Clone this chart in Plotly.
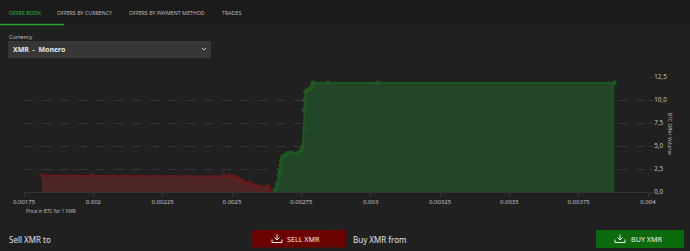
import plotly.graph_objects as go

W, H = 690, 251

# ---- data ----
sell_price = [0.001815, 0.001994, 0.00247, 0.00249, 0.0025, 0.00251, 0.00252, 0.00253,
              0.00254, 0.00256, 0.002575, 0.00259, 0.00263, 0.002635]
sell_volume = [1.8, 1.8, 1.78, 1.72, 1.68, 1.6, 1.45, 1.3, 1.1, 1.0, 0.75, 0.6, 0.6, 0.2]

buy_price = [0.002654, 0.002664, 0.002669, 0.002672, 0.002676, 0.002678, 0.002682, 0.00269,
             0.002702, 0.002714, 0.002738, 0.00275, 0.002754, 0.002759, 0.00276, 0.002762,
             0.002765, 0.002772, 0.00278, 0.002786, 0.002792, 0.002846, 0.003026, 0.003879]
buy_volume = [0.22, 0.95, 1.85, 2.4, 2.93, 3.48, 3.84, 4.02, 4.2, 4.27, 4.27, 4.57, 4.92,
              6.92, 8.91, 10.0, 10.9, 11.09, 11.2, 11.45, 11.88, 11.88, 11.88, 11.88]

x_ticks = [0.00175, 0.002, 0.00225, 0.0025, 0.00275, 0.003, 0.00325, 0.0035, 0.00375, 0.004]
x_tick_labels = ["0.00175", "0.002", "0.00225", "0.0025", "0.00275", "0.003", "0.00325",
                 "0.0035", "0.00375", "0.004"]
y_ticks = [0, 2.5, 5, 7.5, 10, 12.5]
y_tick_labels = ["0,0", "2,5", "5,0", "7,5", "10,0", "12,5"]

tabs = ["OFFER BOOK", "OFFERS BY CURRENCY", "OFFERS BY PAYMENT METHOD", "TRADES"]
tab_x = [7, 55, 127, 220]

BG = "#202020"
FONT = "Noto Sans"


def px(x):
    return x / W


def py(y):
    return 1 - y / H


fig = go.Figure()
fig.add_trace(go.Scatter(
    x=sell_price, y=sell_volume, mode="lines+markers", fill="tozeroy",
    fillcolor="#4f2626", line=dict(color="#6e1818", width=1.5),
    marker=dict(size=3.5, color="#5a1a1a", line=dict(color="#7a1a1a", width=1)),
    hoverinfo="skip", showlegend=False))
fig.add_trace(go.Scatter(
    x=buy_price, y=buy_volume, mode="lines+markers", fill="tozeroy",
    fillcolor="#234629", line=dict(color="#1b5e1f", width=1.5),
    marker=dict(size=3.5, color="#1f4a24", line=dict(color="#1d6a1d", width=1)),
    hoverinfo="skip", showlegend=False))

fig.update_layout(
    width=W, height=H, autosize=False,
    margin=dict(l=0, r=0, t=0, b=0, pad=0, autoexpand=False),
    paper_bgcolor=BG, plot_bgcolor=BG,
    font=dict(family=FONT, color="#b8b8b8", size=7),
    xaxis=dict(domain=[px(24), px(648)], range=[0.00175, 0.004], automargin=False,
               tickvals=x_ticks, ticktext=x_tick_labels, tickfont=dict(size=6, color="#c0c0c0"),
               showgrid=False, zeroline=False, showline=True, linecolor="#353535",
               ticks="outside", ticklen=4, tickcolor="#353535"),
    yaxis=dict(domain=[py(192), py(77)], range=[0, 12.5], side="right", automargin=False,
               tickvals=y_ticks, ticktext=y_tick_labels, tickfont=dict(size=6.3, color="#c0c0c0"),
               showgrid=True, gridcolor="#363636", griddash="dash", gridwidth=1,
               zeroline=False, ticks="outside", ticklen=4, tickcolor="#363636"),
)

shapes = []
ann = []

# top tab bar
shapes.append(dict(type="rect", xref="paper", yref="paper", x0=0, x1=1, y0=py(25), y1=1,
                   fillcolor="#1b1b1b", line=dict(width=0), layer="below"))
shapes.append(dict(type="line", xref="paper", yref="paper", x0=0, x1=px(64), y0=py(24.5), y1=py(24.5),
                   line=dict(color="#25a52f", width=1.5)))
for i, (t, x) in enumerate(zip(tabs, tab_x)):
    ann.append(dict(text=t, x=px(x), y=py(13), xref="paper", yref="paper", xanchor="left",
                    yanchor="middle", showarrow=False,
                    font=dict(size=5.3, color="#2fb83a" if i == 0 else "#bdbdbd", family=FONT)))

# currency selector
ann.append(dict(text="Currency", x=px(7), y=py(37.5), xref="paper", yref="paper", xanchor="left",
                yanchor="middle", showarrow=False, font=dict(size=5.5, color="#c0c0c0", family=FONT)))
shapes.append(dict(type="rect", xref="paper", yref="paper", x0=px(8), x1=px(211), y0=py(58), y1=py(41),
                   fillcolor="#373737", line=dict(width=0)))
ann.append(dict(text="<b>XMR&nbsp; -&nbsp; Monero</b>", x=px(11), y=py(49.5), xref="paper", yref="paper",
                xanchor="left", yanchor="middle", showarrow=False,
                font=dict(size=7, color="#e8e8e8", family=FONT)))
shapes.append(dict(type="path", xref="paper", yref="paper",
                   path=f"M {px(202)} {py(48)} L {px(204)} {py(50)} L {px(206)} {py(48)}",
                   line=dict(color="#cfcfcf", width=1)))

# axis titles
ann.append(dict(text="Price in BTC for 1 XMR", x=px(23.5), y=py(211), xref="paper", yref="paper",
                xanchor="left", yanchor="middle", showarrow=False,
                font=dict(size=4.8, color="#bdbdbd", family=FONT)))
ann.append(dict(text="BTC Offer Volume", x=px(670), y=py(134), xref="paper", yref="paper",
                xanchor="center", yanchor="middle", showarrow=False, textangle=90,
                font=dict(size=5, color="#bdbdbd", family=FONT)))

# bottom bar
ann.append(dict(text="Sell XMR to", x=px(6.5), y=py(239), xref="paper", yref="paper", xanchor="left",
                yanchor="middle", showarrow=False, font=dict(size=8, color="#e0e0e0", family=FONT)))
ann.append(dict(text="Buy XMR from", x=px(350.5), y=py(239), xref="paper", yref="paper", xanchor="left",
                yanchor="middle", showarrow=False, font=dict(size=8, color="#e0e0e0", family=FONT)))
shapes.append(dict(type="rect", xref="paper", yref="paper", x0=px(251.5), x1=px(345), y0=py(247.5),
                   y1=py(230), fillcolor="#6a0202", line=dict(width=0)))
shapes.append(dict(type="rect", xref="paper", yref="paper", x0=px(596), x1=px(684), y0=py(248),
                   y1=py(230), fillcolor="#0b6a0b", line=dict(width=0)))
ann.append(dict(text="SELL XMR", x=px(303), y=py(239), xref="paper", yref="paper", xanchor="center",
                yanchor="middle", showarrow=False, font=dict(size=7.2, color="#f0f0f0", family=FONT)))
ann.append(dict(text="BUY XMR", x=px(647), y=py(239), xref="paper", yref="paper", xanchor="center",
                yanchor="middle", showarrow=False, font=dict(size=7.2, color="#f0f0f0", family=FONT)))


def icon(cx, cy):
    # tray + down arrow
    tray = (f"M {px(cx-5)} {py(cy+1)} L {px(cx-5)} {py(cy+4)} L {px(cx+5)} {py(cy+4)} "
            f"L {px(cx+5)} {py(cy+1)}")
    arrow = (f"M {px(cx)} {py(cy-4)} L {px(cx)} {py(cy+1.5)} M {px(cx-2.5)} {py(cy-1)} "
             f"L {px(cx)} {py(cy+1.5)} L {px(cx+2.5)} {py(cy-1)}")
    return [dict(type="path", xref="paper", yref="paper", path=tray, line=dict(color="#f0f0f0", width=1)),
            dict(type="path", xref="paper", yref="paper", path=arrow, line=dict(color="#f0f0f0", width=1))]


shapes += icon(277, 238.5)
shapes += icon(620, 238.5)

fig.update_layout(shapes=shapes, annotations=ann)
fig.write_html("out.html")
